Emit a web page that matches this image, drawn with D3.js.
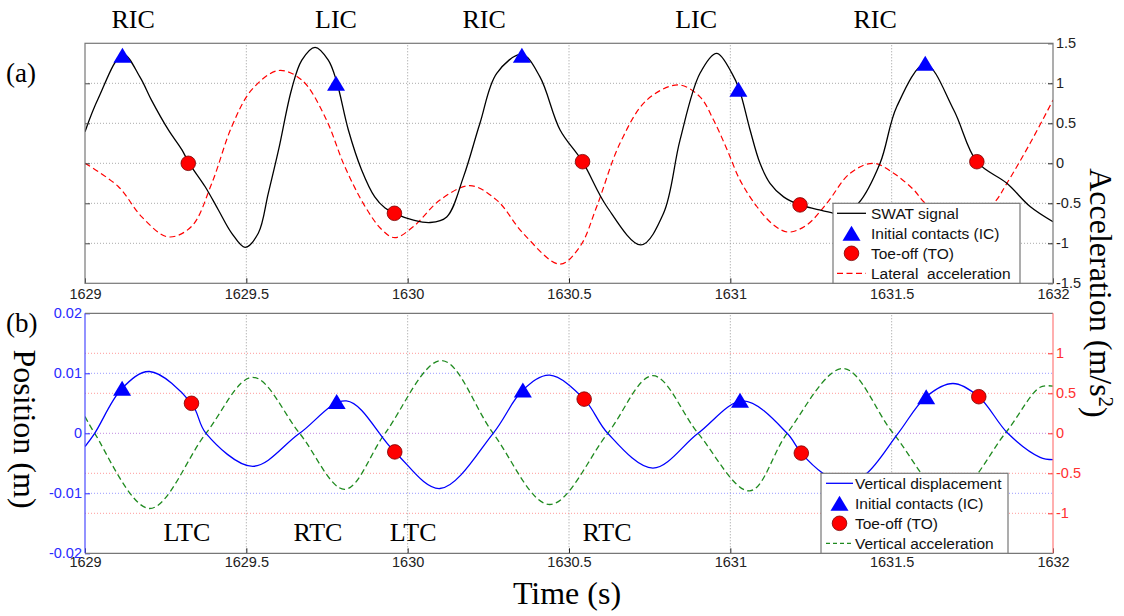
<!DOCTYPE html>
<html>
<head>
<script src="https://d3js.org/d3.v7.min.js"></script>
<style>
  body { margin: 0; background: #fff; }
  svg text { font-family: "Liberation Sans", Arial, sans-serif; }
  svg .serif { font-family: "Liberation Serif", "Times New Roman", serif; }
</style>
</head>
<body>
<div id="chart"></div>
<script>
// ---- data ----
const timeTicks = [1629, 1629.5, 1630, 1630.5, 1631, 1631.5, 1632];
const accTicksTop = [-1.5, -1, -0.5, 0, 0.5, 1, 1.5];
const posTicks = [-0.02, -0.01, 0, 0.01, 0.02];
const vaccTicks = [-1, -0.5, 0, 0.5, 1];

// (a) SWAT signal
const swatT = [1629.000, 1629.041, 1629.118, 1629.170, 1629.206, 1629.258, 1629.300, 1629.323, 1629.372, 1629.413,
  1629.455, 1629.496, 1629.537, 1629.568, 1629.600, 1629.640, 1629.672, 1629.713, 1629.754, 1629.780,
  1629.816, 1629.857, 1629.898, 1629.930, 1629.959, 1630.018, 1630.070, 1630.121, 1630.173, 1630.224,
  1630.276, 1630.354, 1630.410, 1630.472, 1630.542, 1630.617, 1630.723, 1630.793, 1630.844, 1630.906,
  1630.958, 1631.005, 1631.028, 1631.061, 1631.092, 1631.123, 1631.165, 1631.216, 1631.268, 1631.320,
  1631.345, 1631.397, 1631.464, 1631.516, 1631.604, 1631.692, 1631.764, 1631.857, 1631.929, 1632.000];
const swatV = [0.395, 0.81, 1.36, 1.08, 0.79, 0.42, 0.17, 0.0, -0.29, -0.58,
  -0.875, -1.05, -0.875, -0.375, 0.17, 0.92, 1.29, 1.45, 1.29, 1.02,
  0.42, -0.08, -0.42, -0.56, -0.625, -0.71, -0.74, -0.67, -0.17, 0.5,
  1.125, 1.36, 1.08, 0.42, 0.02, -0.54, -1.02, -0.625, 0.29, 1.125,
  1.375, 1.125, 0.92, 0.42, 0.0, -0.25, -0.42, -0.52, -0.575, -0.625,
  -0.64, -0.5, 0.0, 0.71, 1.24, 0.67, 0.02, -0.25, -0.54, -0.73];

// (a) lateral acceleration
const latT = [1629.000, 1629.103, 1629.176, 1629.258, 1629.330, 1629.393, 1629.455, 1629.517, 1629.600, 1629.672,
  1629.744, 1629.805, 1629.868, 1629.920, 1629.960, 1630.018, 1630.100, 1630.193, 1630.276, 1630.358,
  1630.472, 1630.534, 1630.586, 1630.658, 1630.741, 1630.839, 1630.906, 1630.948, 1630.990, 1631.030,
  1631.082, 1631.134, 1631.180, 1631.237, 1631.299, 1631.371, 1631.443, 1631.506, 1631.568, 1631.604,
  1631.710, 1631.816, 1631.857, 1631.929, 1632.000];
const latV = [0, -0.29, -0.67, -0.92, -0.79, -0.25, 0.46, 0.92, 1.16, 1.04,
  0.58, -0.04, -0.54, -0.83, -0.93, -0.79, -0.46, -0.28, -0.46, -0.875,
  -1.26, -1.04, -0.54, 0.25, 0.79, 0.98, 0.83, 0.54, 0.17, -0.21,
  -0.54, -0.77, -0.86, -0.77, -0.5, -0.125, 0, -0.125, -0.33, -0.5,
  -0.8, -0.5, -0.25, 0.25, 0.79];

const icTopT = [1629.116, 1629.778, 1630.354, 1631.025, 1631.604];
const icTopV = [1.35, 1.0, 1.35, 0.925, 1.25];
const toTopT = [1629.320, 1629.959, 1630.542, 1631.216, 1631.764];
const toTopV = [0.0, -0.625, 0.02, -0.52, 0.02];

const topLabels = ["RIC", "LIC", "RIC", "LIC", "RIC"];
const topLabelT = [1629.149, 1629.778, 1630.237, 1630.894, 1631.449];

// (b) vertical displacement (m)
const dispT = [1629.000, 1629.030, 1629.115, 1629.200, 1629.330, 1629.375, 1629.520, 1629.665, 1629.810, 1629.960,
  1630.100, 1630.265, 1630.357, 1630.440, 1630.547, 1630.620, 1630.760, 1630.900, 1631.040, 1631.176,
  1631.220, 1631.290, 1631.350, 1631.420, 1631.520, 1631.607, 1631.690, 1631.770, 1631.860, 1631.960, 1632.000];
const dispV = [-0.0022, 0, 0.0075, 0.0103, 0.005, 0, -0.0055, 0, 0.0054, -0.0031,
  -0.0092, 0, 0.0072, 0.0097, 0.0057, 0, -0.0058, 0, 0.0054, 0,
  -0.0033, -0.0068, -0.0085, -0.0068, 0, 0.0061, 0.0083, 0.0061, 0, -0.0040, -0.0044];

// (b) vertical acceleration (m/s^2)
const vaccT = [1629.000, 1629.030, 1629.200, 1629.375, 1629.520, 1629.665, 1629.805, 1629.930, 1630.105, 1630.265,
  1630.440, 1630.620, 1630.760, 1630.900, 1631.060, 1631.176, 1631.350, 1631.505, 1631.680, 1631.852, 1631.960, 1632.000];
const vaccV = [0.21, 0, -0.94, 0, 0.70, 0, -0.70, 0, 0.91, 0,
  -0.89, 0, 0.72, 0, -0.72, 0, 0.81, 0, -0.80, 0, 0.575, 0.59];

const icBotT = [1629.115, 1629.780, 1630.357, 1631.030, 1631.607];
const icBotV = [0.0075, 0.0053, 0.0072, 0.0055, 0.0061];
const toBotT = [1629.330, 1629.960, 1630.547, 1631.220, 1631.770];
const toBotV = [0.005, -0.0031, 0.0057, -0.0033, 0.0061];

const botLabels = ["LTC", "RTC", "LTC", "RTC"];
const botLabelT = [1629.316, 1629.722, 1630.017, 1630.618];

const topLegend = ["SWAT signal", "Initial contacts (IC)", "Toe-off (TO)", "Lateral  acceleration"];
const botLegend = ["Vertical displacement", "Initial contacts (IC)", "Toe-off (TO)", "Vertical acceleration"];

// ---- layout ----
const width = 1124, height = 616;
const svg = d3.select("#chart").append("svg")
  .attr("width", width).attr("height", height);

const x = d3.scaleLinear().domain([1629, 1632]).range([85, 1053]);
const yTop = d3.scaleLinear().domain([-1.5, 1.5]).range([283.3, 43.3]);
const yPos = d3.scaleLinear().domain([-0.02, 0.02]).range([553.3, 313.3]);
const yAcc = d3.scaleLinear().domain([-1.5, 1.5]).range([553.3, 313.3]);

const [xl, xr] = x.range();
const zip = (ts, vs) => ts.map((t, i) => ({ t: t, v: vs[i] }));
const smooth = d3.curveCatmullRom.alpha(0.5);

const defs = svg.append("defs");
defs.append("clipPath").attr("id", "clipTop").append("rect")
  .attr("x", xl).attr("y", yTop(1.5)).attr("width", xr - xl).attr("height", yTop(-1.5) - yTop(1.5));
defs.append("clipPath").attr("id", "clipBot").append("rect")
  .attr("x", xl).attr("y", yPos(0.02)).attr("width", xr - xl).attr("height", yPos(-0.02) - yPos(0.02));

function hGrid(g, vals, scale, color) {
  g.selectAll(null).data(vals).enter().append("line")
    .attr("x1", xl).attr("x2", xr)
    .attr("y1", d => scale(d)).attr("y2", d => scale(d))
    .attr("stroke", color).attr("stroke-width", 1).attr("stroke-dasharray", "1,2");
}
function vGrid(g, scaleY) {
  g.selectAll(null).data(timeTicks.slice(1, -1)).enter().append("line")
    .attr("x1", d => x(d)).attr("x2", d => x(d))
    .attr("y1", scaleY.range()[0]).attr("y2", scaleY.range()[1])
    .attr("stroke", "#999").attr("stroke-width", 1).attr("stroke-dasharray", "1,2");
}

function triangle(g, data, xs, ys) {
  g.selectAll(null).data(data).enter().append("path")
    .attr("d", "M0,-7.5L9,7.5L-9,7.5Z")
    .attr("transform", d => `translate(${xs(d)},${ys(d)})`)
    .attr("fill", "#0000ff");
}
function circles(g, data, xs, ys) {
  g.selectAll(null).data(data).enter().append("circle")
    .attr("cx", xs).attr("cy", ys).attr("r", 7.3)
    .attr("fill", "#ff0000").attr("stroke", "#700").attr("stroke-width", 0.8);
}

function styleAxis(g, color, size) {
  g.select(".domain").remove();
  g.selectAll(".tick line").attr("stroke", color);
  g.selectAll(".tick text").attr("fill", color).style("font-size", size + "px")
    .style("font-family", '"Liberation Sans", Arial, sans-serif');
}

// ================= panel (a) =================
const gA = svg.append("g");
hGrid(gA, [-1, -0.5, 0, 0.5, 1], yTop, "#aaa");
vGrid(gA, yTop);

const lineTop = d3.line().x(d => x(d.t)).y(d => yTop(d.v)).curve(smooth);
const curvesA = gA.append("g").attr("clip-path", "url(#clipTop)");
curvesA.append("path").datum(zip(latT, latV)).attr("d", lineTop)
  .attr("fill", "none").attr("stroke", "#ff0000").attr("stroke-width", 1.2).attr("stroke-dasharray", "6,3.5");
curvesA.append("path").datum(zip(swatT, swatV)).attr("d", lineTop)
  .attr("fill", "none").attr("stroke", "#000").attr("stroke-width", 1.3);

triangle(gA, zip(icTopT, icTopV), d => x(d.t), d => yTop(d.v));
circles(gA, zip(toTopT, toTopV), d => x(d.t), d => yTop(d.v));

gA.append("g").attr("transform", `translate(0,${yTop(-1.5)})`)
  .call(d3.axisBottom(x).tickValues(timeTicks).tickFormat(String).tickSizeInner(-5).tickSizeOuter(0).tickPadding(5.5))
  .call(g => styleAxis(g, "#222", 14.5));
gA.append("g").attr("transform", `translate(${xl},0)`)
  .call(d3.axisLeft(yTop).tickValues([-1, -0.5, 0, 0.5, 1]).tickFormat("").tickSizeInner(-5).tickSizeOuter(0))
  .call(g => styleAxis(g, "#444", 14.5));
gA.append("g").attr("transform", `translate(${xr},0)`)
  .call(d3.axisRight(yTop).tickValues(accTicksTop).tickFormat(String).tickSizeInner(-5).tickSizeOuter(0).tickPadding(3))
  .call(g => styleAxis(g, "#222", 14.5));
gA.append("rect").attr("x", xl).attr("y", yTop(1.5)).attr("width", xr - xl).attr("height", yTop(-1.5) - yTop(1.5))
  .attr("fill", "none").attr("stroke", "#777").attr("stroke-width", 1.2);

gA.selectAll(null).data(topLabels).enter().append("text")
  .attr("class", "serif").attr("x", (d, i) => x(topLabelT[i])).attr("y", 28)
  .attr("text-anchor", "middle").style("font-size", "26px").text(d => d);
gA.append("text").attr("class", "serif").attr("x", 6).attr("y", 82).style("font-size", "27px").text("(a)");

// legend box with sample marks
function legend(g, x0, y0, w, h, names, kinds, sampleX, textX) {
  const lg = g.append("g");
  lg.append("rect").attr("x", x0).attr("y", y0).attr("width", w).attr("height", h)
    .attr("fill", "#fff").attr("stroke", "#777").attr("stroke-width", 1.2);
  names.forEach((name, i) => {
    const cy = y0 + 10 + i * 20;
    const k = kinds[i];
    if (k.type === "line") {
      lg.append("line").attr("x1", sampleX[0]).attr("x2", sampleX[1]).attr("y1", cy).attr("y2", cy)
        .attr("stroke", k.color).attr("stroke-width", 1.3).attr("stroke-dasharray", k.dash || null);
    } else if (k.type === "tri") {
      triangle(lg, [0], () => (sampleX[0] + sampleX[1]) / 2, () => cy);
    } else {
      circles(lg, [0], () => (sampleX[0] + sampleX[1]) / 2, () => cy);
    }
    lg.append("text").attr("x", textX).attr("y", cy).attr("dy", "0.36em")
      .style("font-size", "15.5px").style("white-space", "pre").attr("fill", "#111").text(name);
  });
}
legend(gA, 833, 203.3, 187, 80, topLegend,
  [{ type: "line", color: "#000" }, { type: "tri" }, { type: "circ" }, { type: "line", color: "#ff0000", dash: "6,3.5" }],
  [837, 866], 871);

// ================= panel (b) =================
const gB = svg.append("g");
vGrid(gB, yPos);
hGrid(gB, vaccTicks.filter(d => d !== 0), yAcc, "#ff9a9a");
hGrid(gB, [-0.01, 0.01], yPos, "#9a9aff");
hGrid(gB, [0], yPos, "#c08ae0");

const lineDisp = d3.line().x(d => x(d.t)).y(d => yPos(d.v)).curve(smooth);
const lineVacc = d3.line().x(d => x(d.t)).y(d => yAcc(d.v)).curve(smooth);
const curvesB = gB.append("g").attr("clip-path", "url(#clipBot)");
curvesB.append("path").datum(zip(vaccT, vaccV)).attr("d", lineVacc)
  .attr("fill", "none").attr("stroke", "#1f8a1f").attr("stroke-width", 1.3).attr("stroke-dasharray", "6,3.5");
curvesB.append("path").datum(zip(dispT, dispV)).attr("d", lineDisp)
  .attr("fill", "none").attr("stroke", "#0000ff").attr("stroke-width", 1.3);

triangle(gB, zip(icBotT, icBotV), d => x(d.t), d => yPos(d.v));
circles(gB, zip(toBotT, toBotV), d => x(d.t), d => yPos(d.v));

gB.append("g").attr("transform", `translate(0,${yPos(-0.02)})`)
  .call(d3.axisBottom(x).tickValues(timeTicks).tickFormat(String).tickSizeInner(-5).tickSizeOuter(0).tickPadding(3))
  .call(g => styleAxis(g, "#222", 14.5));
gB.append("g").attr("transform", `translate(${xl},0)`)
  .call(d3.axisLeft(yPos).tickValues(posTicks).tickFormat(String).tickSizeInner(-5).tickSizeOuter(0).tickPadding(3))
  .call(g => styleAxis(g, "#2a2aff", 14.5));
gB.append("g").attr("transform", `translate(${xr},0)`)
  .call(d3.axisRight(yAcc).tickValues(vaccTicks).tickFormat(String).tickSizeInner(-5).tickSizeOuter(0).tickPadding(3))
  .call(g => styleAxis(g, "#ff3030", 14.5));

gB.append("line").attr("x1", xl).attr("x2", xr).attr("y1", yPos(0.02)).attr("y2", yPos(0.02))
  .attr("stroke", "#777").attr("stroke-width", 1.2);
gB.append("line").attr("x1", xl).attr("x2", xr).attr("y1", yPos(-0.02)).attr("y2", yPos(-0.02))
  .attr("stroke", "#777").attr("stroke-width", 1.2);
gB.append("line").attr("x1", xl).attr("x2", xl).attr("y1", yPos(0.02)).attr("y2", yPos(-0.02))
  .attr("stroke", "#4a4aff").attr("stroke-width", 1.2);
gB.append("line").attr("x1", xr).attr("x2", xr).attr("y1", yPos(0.02)).attr("y2", yPos(-0.02))
  .attr("stroke", "#ff7a7a").attr("stroke-width", 1.2);

gB.selectAll(null).data(botLabels).enter().append("text")
  .attr("class", "serif").attr("x", (d, i) => x(botLabelT[i])).attr("y", 540.5)
  .attr("text-anchor", "middle").style("font-size", "26px").text(d => d);
gB.append("text").attr("class", "serif").attr("x", 6).attr("y", 332).style("font-size", "27px").text("(b)");

legend(gB, 821, 473.3, 187, 80, botLegend,
  [{ type: "line", color: "#0000ff" }, { type: "tri" }, { type: "circ" }, { type: "line", color: "#1f8a1f", dash: "4,3" }],
  [826, 853], 855);

// ---- axis titles ----
svg.append("text").attr("class", "serif").attr("x", 567).attr("y", 604)
  .attr("text-anchor", "middle").style("font-size", "32px").text("Time (s)");
svg.append("text").attr("class", "serif")
  .attr("transform", "translate(14,429) rotate(90)")
  .attr("text-anchor", "middle").style("font-size", "32px").text("Position (m)");
const acc = svg.append("text").attr("class", "serif")
  .attr("transform", "translate(1090,293) rotate(90)")
  .attr("text-anchor", "middle").style("font-size", "32px");
acc.append("tspan").text("Acceleration (m/s");
acc.append("tspan").attr("dy", "-0.45em").style("font-size", "21px").text("2");
acc.append("tspan").attr("dy", "0.45em").text(")");
</script>
</body>
</html>
